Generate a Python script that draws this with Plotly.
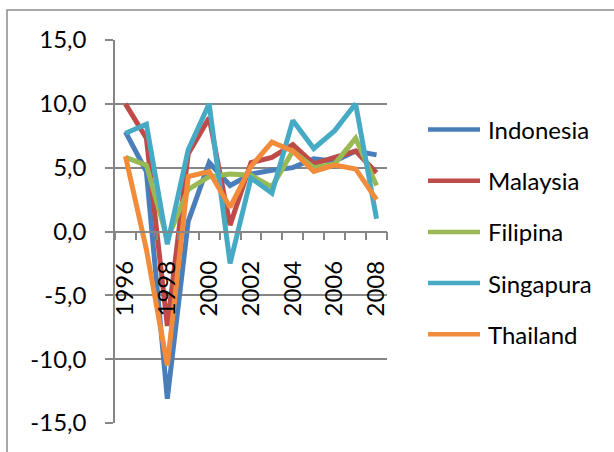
import plotly.graph_objects as go

years = list(range(1996, 2009))
indonesia = [7.8, 4.7, -13.1, 0.8, 5.4, 3.6, 4.5, 4.8, 5.0, 5.7, 5.5, 6.3, 6.0]
malaysia = [10.0, 7.3, -7.4, 6.1, 8.9, 0.5, 5.4, 5.8, 6.8, 5.3, 5.8, 6.3, 4.6]
filipina = [5.8, 5.2, -0.6, 3.3, 4.3, 4.5, 4.4, 3.5, 6.3, 5.0, 5.3, 7.3, 3.6]
singapura = [7.7, 8.4, -1.0, 6.4, 10.0, -2.5, 4.2, 3.0, 8.7, 6.5, 7.9, 10.0, 1.0]
thailand = [5.9, -1.4, -10.5, 4.3, 4.7, 1.9, 5.1, 7.0, 6.3, 4.7, 5.2, 4.9, 2.5]

names = ["Indonesia", "Malaysia", "Filipina", "Singapura", "Thailand"]
series = [indonesia, malaysia, filipina, singapura, thailand]
colors = ["#4A7EBB", "#BE4B48", "#98B954", "#46AAC5", "#F38C3A"]
ytick_vals = [-15, -10, -5, 0, 5, 10, 15]
ytick_text = [f"{v:.1f}".replace(".", ",") for v in ytick_vals]
xtick_labels = [1996, 1998, 2000, 2002, 2004, 2006, 2008]

W, H = 614, 452
L, R, T, B = 115, 227, 40, 29
PW, PH = W - L - R, H - T - B

def px(x):
    return (x - L) / PW

def py(y):
    return (H - B - y) / PH

FONT = "Lato"
GRAY = "#868686"

fig = go.Figure()
for n, s, c in zip(names, series, colors):
    fig.add_trace(go.Scatter(x=years, y=s, name=n, mode="lines",
                             line=dict(color=c, width=5), showlegend=False))

shapes = [dict(type="rect", xref="paper", yref="paper",
               x0=px(7), x1=px(700), y0=py(600), y1=py(10),
               line=dict(color="#8C8C8C", width=1.5), fillcolor="rgba(0,0,0,0)",
               layer="below")]
annotations = []
leg_y0, leg_dy = 129.5, 51.2
for i, (n, c) in enumerate(zip(names, colors)):
    yy = leg_y0 + i * leg_dy
    shapes.append(dict(type="line", xref="paper", yref="paper",
                       x0=px(428), x1=px(480), y0=py(yy), y1=py(yy),
                       line=dict(color=c, width=4.5)))
    annotations.append(dict(xref="paper", yref="paper", x=px(486), y=py(yy),
                            text=n, showarrow=False, xanchor="left", yanchor="middle",
                            font=dict(family=FONT, size=24, color="black")))

fig.update_layout(
    width=W, height=H,
    margin=dict(l=L, r=R, t=T, b=B),
    paper_bgcolor="white", plot_bgcolor="white",
    font=dict(family=FONT, size=24, color="black"),
    shapes=shapes, annotations=annotations,
    showlegend=False,
    xaxis=dict(
        range=[1995.5, 2008.5], anchor="free", position=0.5,
        tickvals=xtick_labels, ticktext=[str(v) for v in xtick_labels],
        ticks="", tickangle=-90, ticklabelstandoff=19,
        showline=True, linecolor=GRAY, linewidth=1.5,
        showgrid=False, zeroline=False,
        minor=dict(tickvals=[y - 0.5 for y in years] + [years[-1] + 0.5],
                   ticks="outside", ticklen=8, tickcolor=GRAY, tickwidth=1.5,
                   showgrid=False),
        tickfont=dict(family=FONT, size=24, color="black"),
    ),
    yaxis=dict(
        range=[-15, 15], tickvals=ytick_vals, ticktext=ytick_text,
        showgrid=True, gridcolor=GRAY, gridwidth=1.5,
        showline=True, linecolor=GRAY, linewidth=1.5,
        ticks="outside", ticklen=8, tickcolor=GRAY, tickwidth=1.5,
        ticklabelstandoff=14, zeroline=False,
        tickfont=dict(family=FONT, size=24, color="black"),
    ),
)

fig.write_html("out.html", config={"displayModeBar": False},
               post_script="document.body.style.margin='0';document.body.style.overflow='hidden';")
